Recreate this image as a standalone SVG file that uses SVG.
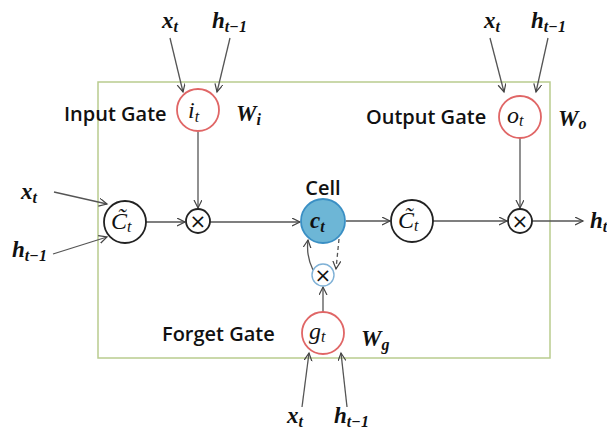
<svg xmlns="http://www.w3.org/2000/svg" width="607" height="430" viewBox="0 0 607 430">
<defs>
<marker id="arr" markerWidth="10" markerHeight="10" refX="8" refY="4" orient="auto" markerUnits="userSpaceOnUse">
<path d="M0,0 L8,4 L0,8" fill="none" stroke="#444" stroke-width="1.2"/>
</marker>
</defs>
<style>
.ln{fill:none;stroke:#555;stroke-width:1.3}
.dash{fill:none;stroke:#555;stroke-width:1.3;stroke-dasharray:4 3}
.gate{fill:#fff;stroke:#e06666;stroke-width:1.8}
.blk{fill:#fff;stroke:#222;stroke-width:1.8}
.cell{fill:#6db6d6;stroke:#3a8fc4;stroke-width:1.8}
.small{fill:#fff;stroke:#7fb1d6;stroke-width:1.4}
.v{font-family:"Liberation Serif","DejaVu Serif",serif;font-style:italic;font-weight:bold;font-size:23px;fill:#111}
.n{font-family:"Liberation Serif","DejaVu Serif",serif;font-style:italic;font-size:24px;fill:#111}
.s{font-size:16px}
.lbl{font-family:"Open Sans","Liberation Sans",sans-serif;font-weight:600;font-size:20px;fill:#111}
.op{font-family:"DejaVu Sans","Liberation Sans",sans-serif;font-size:20px;fill:#111;text-anchor:middle}
</style>
<rect x="98" y="82" width="452" height="276" fill="none" stroke="#b9cc8e" stroke-width="1.5"/>
<g id="connectors">
<line class="ln" x1="170" y1="38" x2="183" y2="92" marker-end="url(#arr)"/>
<line class="ln" x1="230" y1="38" x2="217" y2="92" marker-end="url(#arr)"/>
<line class="ln" x1="198" y1="132" x2="198" y2="208" marker-end="url(#arr)"/>
<line class="ln" x1="54" y1="192" x2="107" y2="204" marker-end="url(#arr)"/>
<line class="ln" x1="53" y1="254" x2="107" y2="237" marker-end="url(#arr)"/>
<line class="ln" x1="146" y1="222" x2="185" y2="222" marker-end="url(#arr)"/>
<line class="ln" x1="210" y1="222" x2="300" y2="222" marker-end="url(#arr)"/>
<line class="ln" x1="346" y1="221" x2="390" y2="221" marker-end="url(#arr)"/>
<line class="ln" x1="433" y1="221" x2="507" y2="221" marker-end="url(#arr)"/>
<line class="ln" x1="532" y1="221" x2="583" y2="221" marker-end="url(#arr)"/>
<line class="ln" x1="520" y1="138" x2="520" y2="208" marker-end="url(#arr)"/>
<line class="ln" x1="490" y1="38" x2="504" y2="92" marker-end="url(#arr)"/>
<line class="ln" x1="548" y1="38" x2="536" y2="92" marker-end="url(#arr)"/>
<line class="ln" x1="323" y1="312" x2="323" y2="287" marker-end="url(#arr)"/>
<path class="ln" d="M313,270 Q306,256 308,240" marker-end="url(#arr)"/>
<path class="dash" d="M339,239 L336,269" marker-end="url(#arr)"/>
<line class="ln" x1="302" y1="407" x2="309" y2="353" marker-end="url(#arr)"/>
<line class="ln" x1="347" y1="407" x2="341" y2="353" marker-end="url(#arr)"/>
</g>
<g id="input-gate">
<circle class="gate" cx="198" cy="110" r="21"/>
<text class="n" x="188" y="118">i<tspan class="s" dy="4">t</tspan></text>
<text class="lbl" x="64" y="121">Input Gate</text>
<text class="v" x="236" y="121">W<tspan class="s" dy="4">i</tspan></text>
</g>
<g id="input-x-labels">
<text class="v" x="162" y="28">x<tspan class="s" dy="4">t</tspan></text>
<text class="v" x="212" y="28">h<tspan class="s" dy="4">t−1</tspan></text>
</g>
<g id="candidate-left">
<circle class="blk" cx="125" cy="222" r="21"/>
<text class="n" x="111" y="229">C̃<tspan class="s" dy="3">t</tspan></text>
<text class="v" x="21" y="199">x<tspan class="s" dy="4">t</tspan></text>
<text class="v" x="12" y="257">h<tspan class="s" dy="4">t−1</tspan></text>
</g>
<g id="mul-input">
<circle class="blk" cx="198" cy="221" r="12"/>
<text class="op" x="198" y="228">×</text>
</g>
<g id="cell">
<circle class="cell" cx="323" cy="221" r="22"/>
<text class="v" x="310" y="228">c<tspan class="s" dy="4">t</tspan></text>
<text class="lbl" x="323" y="195" text-anchor="middle">Cell</text>
</g>
<g id="candidate-right">
<circle class="blk" cx="412" cy="221" r="21"/>
<text class="n" x="398" y="228">C̃<tspan class="s" dy="3">t</tspan></text>
</g>
<g id="mul-output">
<circle class="blk" cx="520" cy="221" r="12"/>
<text class="op" x="520" y="228">×</text>
</g>
<g id="output-gate">
<circle class="gate" cx="520" cy="117" r="21"/>
<text class="n" x="507" y="123">o<tspan class="s" dy="3">t</tspan></text>
<text class="lbl" x="366" y="124">Output Gate</text>
<text class="v" x="558" y="126">W<tspan class="s" dy="3">o</tspan></text>
<text class="v" x="484" y="28">x<tspan class="s" dy="4">t</tspan></text>
<text class="v" x="531" y="28">h<tspan class="s" dy="4">t−1</tspan></text>
</g>
<g id="output-h">
<text class="v" x="590" y="228">h<tspan class="s" dy="4">t</tspan></text>
</g>
<g id="mul-forget">
<circle class="small" cx="323" cy="275" r="11"/>
<text class="op" x="323" y="282">×</text>
</g>
<g id="forget-gate">
<circle class="gate" cx="323" cy="333" r="21"/>
<text class="n" x="309" y="339">g<tspan class="s" dy="3">t</tspan></text>
<text class="lbl" x="162" y="341">Forget Gate</text>
<text class="v" x="361" y="346">W<tspan class="s" dy="4">g</tspan></text>
<text class="v" x="287" y="423">x<tspan class="s" dy="4">t</tspan></text>
<text class="v" x="334" y="423">h<tspan class="s" dy="4">t−1</tspan></text>
</g>
</svg>
